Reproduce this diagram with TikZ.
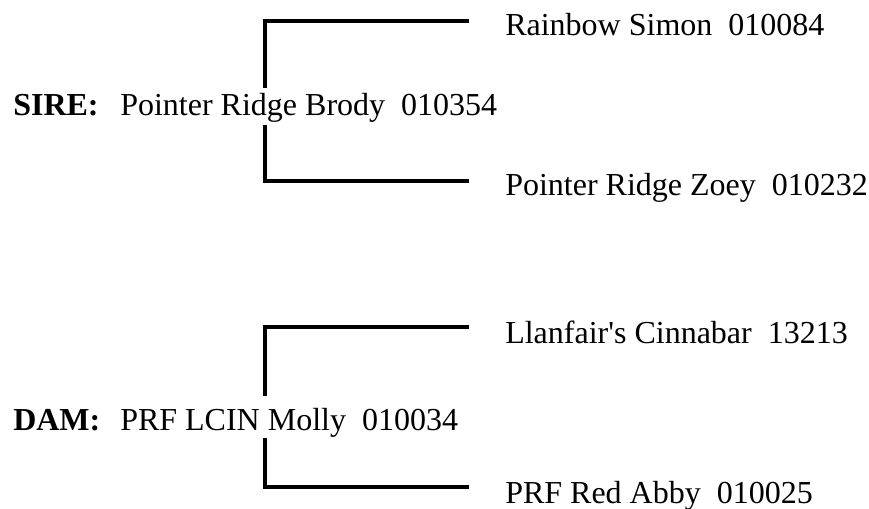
\documentclass[tikz,border=0pt]{standalone}
\usepackage{fontspec}
\setmainfont{Liberation Serif}[Ligatures=TeXOff]
\begin{document}
\begin{tikzpicture}[x=0.75pt,y=-0.75pt,
  lbl/.style={anchor=base west,inner sep=0pt,font=\fontsize{24}{28}\selectfont},
  bracket/.style={line width=2.5pt,line cap=rect}]
\useasboundingbox (0,0) rectangle (869,508);
% SIRE side
\node[lbl] (sire) at (13,115) {\textbf{SIRE:}};
\node[lbl] (sirename) at (120,115) {Pointer Ridge Brody\ \ 010354};
\node[lbl] (s1) at (505,35) {Rainbow Simon\ \ 010084};
\node[lbl] (s2) at (505,195) {Pointer Ridge Zoey\ \ 010232};
\coordinate (stopr) at (467,21);
\coordinate (stopl) at (265,21);
\coordinate (sgapt) at (265,86);
\coordinate (sgapb) at (265,127);
\coordinate (sbotl) at (265,181);
\coordinate (sbotr) at (467,181);
\draw[bracket] (sgapt) -- (stopl) -- (stopr);
\draw[bracket] (sgapb) -- (sbotl) -- (sbotr);
% DAM side
\node[lbl] (dam) at (13,430) {\textbf{DAM:}};
\node[lbl] (damname) at (120,430) {PRF LCIN Molly\ \ 010034};
\node[lbl] (d1) at (505,343) {Llanfair's Cinnabar\ \ 13213};
\node[lbl] (d2) at (505,503) {PRF Red Abby\ \ 010025};
\coordinate (dtopr) at (467,327);
\coordinate (dtopl) at (265,327);
\coordinate (dgapt) at (265,394);
\coordinate (dgapb) at (265,440);
\coordinate (dbotl) at (265,487);
\coordinate (dbotr) at (467,487);
\draw[bracket] (dgapt) -- (dtopl) -- (dtopr);
\draw[bracket] (dgapb) -- (dbotl) -- (dbotr);
\end{tikzpicture}
\end{document}
